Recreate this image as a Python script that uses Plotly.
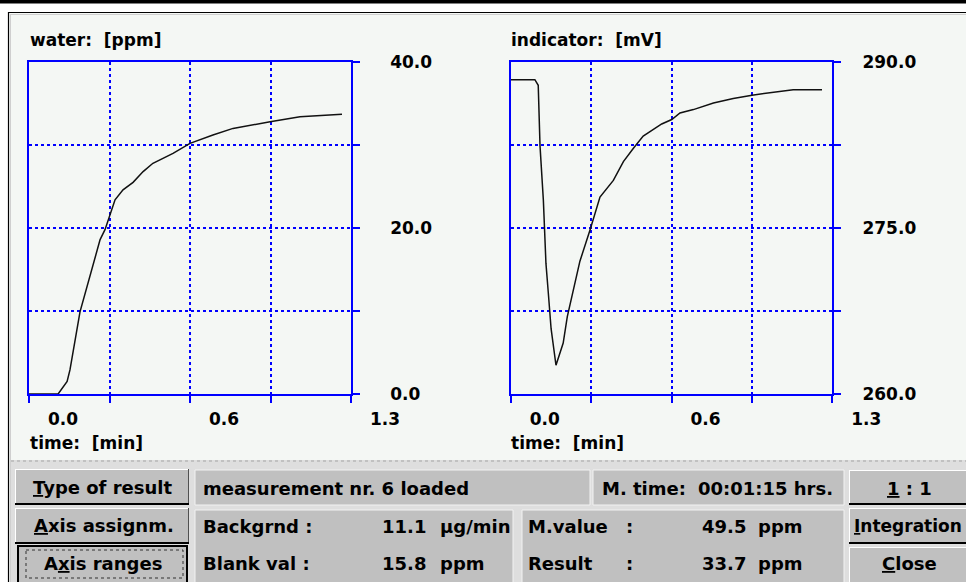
import plotly.graph_objects as go

# ---- measurement data -------------------------------------------------
water_time_min = [0.0, 0.113, 0.148, 0.159, 0.198, 0.245, 0.276, 0.295, 0.314, 0.334,
                  0.365, 0.404, 0.443, 0.481, 0.559, 0.625, 0.714, 0.792, 0.936, 1.052, 1.215]
water_ppm = [0.0, 0.0, 1.5, 2.9, 9.9, 15.3, 18.6, 19.8, 21.6, 23.4,
             24.6, 25.5, 26.8, 27.8, 29.0, 30.2, 31.2, 32.0, 32.8, 33.4, 33.7]

indicator_time_min = [0.0, 0.094, 0.107, 0.114, 0.127, 0.133, 0.137, 0.146, 0.157, 0.176,
                      0.204, 0.220, 0.269, 0.308, 0.347, 0.399, 0.438, 0.477, 0.515, 0.587,
                      0.626, 0.658, 0.710, 0.788, 0.865, 0.938, 0.995, 1.098, 1.210]
indicator_mv = [288.4, 288.4, 287.9, 282.4, 277.5, 274.8, 271.8, 269.2, 265.9, 262.6,
                264.6, 267.0, 272.0, 274.8, 277.8, 279.3, 281.0, 282.2, 283.3, 284.4,
                284.8, 285.4, 285.7, 286.3, 286.7, 287.0, 287.2, 287.5, 287.5]

time_ticks = [0.0, 0.3125, 0.625, 0.9375, 1.25]
time_ticktext = ["0.0", "", "0.6", "", "1.3"]
water_ticks = [0, 10, 20, 30, 40]
water_ticktext = ["0.0", "", "20.0", "", "40.0"]
mv_ticks = [260, 267.5, 275, 282.5, 290]
mv_ticktext = ["260.0", "", "275.0", "", "290.0"]

# ---- page geometry helpers (pixels -> paper) ---------------------------
W, H = 966, 582


def px(x):
    return x / W


def py(y):
    return 1 - y / H


BG = "#f4f7f4"
GRAY = "#c0c0c0"
LIGHT = "#dedede"
BLUE = "#0000ff"
FONT = "DejaVu Sans"

fig = go.Figure()
fig.add_trace(go.Scatter(x=water_time_min, y=water_ppm, mode="lines",
                         line=dict(color="#111111", width=1.5),
                         xaxis="x", yaxis="y", showlegend=False, hoverinfo="skip"))
fig.add_trace(go.Scatter(x=indicator_time_min, y=indicator_mv, mode="lines",
                         line=dict(color="#111111", width=1.5),
                         xaxis="x2", yaxis="y2", showlegend=False, hoverinfo="skip"))

tick_font = dict(family=FONT, size=17, color="black", weight="bold")


def time_axis(domain, anchor):
    return dict(domain=domain, anchor=anchor, range=[0, 1.25], automargin=False,
                tickmode="array", tickvals=time_ticks, ticktext=time_ticktext,
                ticks="outside", ticklen=7, tickwidth=1.5, tickcolor=BLUE,
                showline=True, linecolor=BLUE, linewidth=1.5, mirror=True,
                showgrid=True, gridcolor=BLUE, gridwidth=1.5, griddash="dot",
                zeroline=False, tickfont=tick_font,
                ticklabelshift=34, ticklabelstandoff=2, fixedrange=True)


def value_axis(domain, anchor, rng, vals, text, standoff):
    return dict(domain=domain, anchor=anchor, range=rng, side="right", automargin=False,
                tickmode="array", tickvals=vals, ticktext=text,
                ticks="outside", ticklen=7, tickwidth=1.5, tickcolor=BLUE,
                showline=True, linecolor=BLUE, linewidth=1.5, mirror=True,
                showgrid=True, gridcolor=BLUE, gridwidth=1.5, griddash="dot",
                zeroline=False, tickfont=tick_font,
                ticklabelstandoff=standoff, fixedrange=True)


ydom = [py(394), py(62)]
fig.update_layout(
    width=W, height=H, autosize=False,
    margin=dict(l=0, r=0, t=0, b=0, pad=0),
    paper_bgcolor=BG, plot_bgcolor=BG,
    xaxis=time_axis([px(29), px(351)], "y"),
    yaxis=value_axis(ydom, "x", [0, 40], water_ticks, water_ticktext, 27),
    xaxis2=time_axis([px(510.7), px(832.3)], "y2"),
    yaxis2=value_axis(ydom, "x2", [260, 290], mv_ticks, mv_ticktext, 18),
)

shapes = []


def rect(x0, y0, x1, y1, fill, line_color=None, line_width=0, dash=None):
    line = dict(width=line_width, color=line_color or fill)
    if dash:
        line["dash"] = dash
    shapes.append(dict(type="rect", xref="paper", yref="paper",
                       x0=px(x0), x1=px(x1), y0=py(y0), y1=py(y1),
                       fillcolor=fill, line=line, layer="above"))


def hline(x0, x1, y, color, width=1, dash=None):
    line = dict(color=color, width=width)
    if dash:
        line["dash"] = dash
    shapes.append(dict(type="line", xref="paper", yref="paper",
                       x0=px(x0), x1=px(x1), y0=py(y), y1=py(y), line=line, layer="above"))


def vline(x, y0, y1, color, width=1, dash=None):
    line = dict(color=color, width=width)
    if dash:
        line["dash"] = dash
    shapes.append(dict(type="line", xref="paper", yref="paper",
                       x0=px(x), x1=px(x), y0=py(y0), y1=py(y1), line=line, layer="above"))


# window frame
rect(0, 0, W, 12, "white")
rect(0, 0, 8, H, "white")
rect(0, 0, W, 3.5, "black")
hline(8, W, 12.5, "black", 1.2)
hline(10, W, 14.5, "#cfcfcf", 1)
vline(8.5, 12, H, "black", 1.2)
vline(10.5, 14, H, "#cfcfcf", 1)

# status / button area
rect(11, 460, W, H, LIGHT)
hline(11, W, 461, "#b8b8b8", 1.5, "dot")


def button(x0, y0, x1, y1):
    rect(x0, y0, x1, y1, GRAY)
    hline(x0, x1, y0 + 0.5, "white", 1)
    vline(x0 + 0.5, y0, y1, "white", 1)
    vline(x1 - 0.5, y0, y1, "#505050", 1)
    rect(x0, y1 - 2, x1, y1, "black")


button(15, 469, 189, 505)
button(15, 508, 189, 544)
rect(18, 546, 187, H + 2, GRAY, "black", 2)
rect(26, 550, 183, 578, GRAY, "#303030", 1, "dot")

button(849, 470, W + 2, 505)
button(849, 508, W + 2, 544)
button(849, 547, W + 2, H + 4)

for (x0, y0, x1, y1) in [(195, 470, 590, 505), (593, 470, 844, 505),
                         (195, 510, 513, H + 2), (522, 510, 844, H + 2)]:
    rect(x0, y0, x1, y1, GRAY, "#f2f2f2", 1)

fig.update_layout(shapes=shapes)

annotations = []


def label(text, x, y, size=18, anchor="left"):
    annotations.append(dict(text=text, x=px(x), y=py(y), xref="paper", yref="paper",
                            xanchor=anchor, yanchor="middle", showarrow=False,
                            font=dict(family=FONT, size=size, color="black", weight="bold")))


# axis captions
label("water:  [ppm]", 28, 40, 17)
label("indicator:  [mV]", 509, 40, 17)
label("time:  [min]", 28, 443, 17)
label("time:  [min]", 509, 443, 17)

# buttons
label("<u>T</u>ype of result", 102, 487, anchor="center")
label("<u>A</u>xis assignm.", 104, 525, anchor="center")
label("A<u>x</u>is ranges", 103, 563, anchor="center")
label("<u>1</u> : 1", 909, 488, anchor="center")
label("<u>I</u>ntegration", 852, 526, 17)
label("<u>C</u>lose", 909, 563, anchor="center")

# status panels
label("measurement nr. 6 loaded", 201, 488)
label("M. time:", 600, 488)
label("00:01:15 hrs.", 696, 488)
label("Backgrnd :", 201, 526)
label("11.1", 380, 526)
label("µg/min", 438, 526)
label("Blank val :", 201, 563)
label("15.8", 380, 563)
label("ppm", 438, 563)
label("M.value", 526, 526)
label(":", 624, 526)
label("49.5", 700, 526)
label("ppm", 756, 526)
label("Result", 526, 563)
label(":", 624, 563)
label("33.7", 700, 563)
label("ppm", 756, 563)

fig.update_layout(annotations=annotations)

# the page itself carries no margin or scrollbars around the figure
page_css = ("document.body.style.margin='0';document.body.style.padding='0';"
            "document.documentElement.style.overflow='hidden';"
            "document.body.style.overflow='hidden';")
fig.write_html("out.html", config={"displayModeBar": False}, post_script=page_css)
